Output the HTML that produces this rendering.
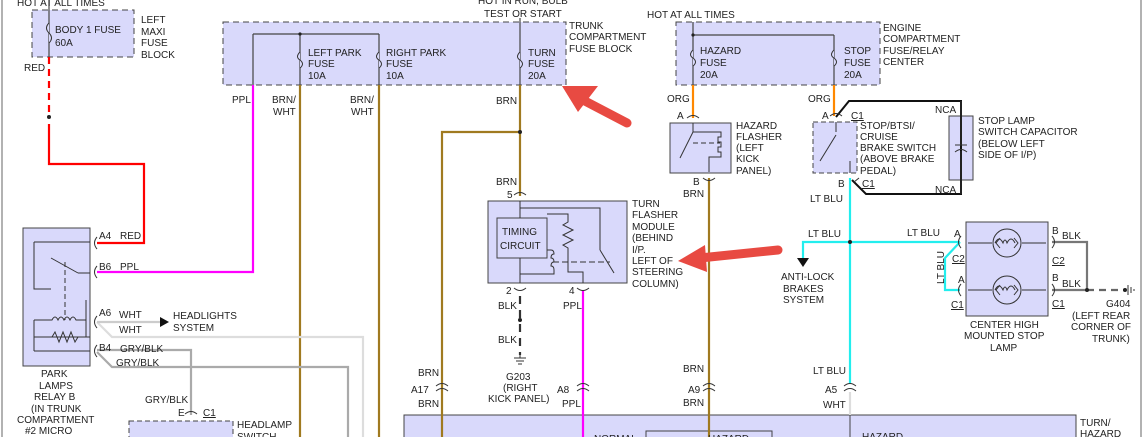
<!DOCTYPE html>
<html><head><meta charset="utf-8"><style>
html,body{margin:0;padding:0;background:#fff;}
svg{display:block;}
text{font-family:"Liberation Sans",sans-serif;font-size:10px;fill:#222;}
</style></head><body>
<svg width="1144" height="437" viewBox="0 0 1144 437" xmlns="http://www.w3.org/2000/svg">
<rect width="1144" height="437" fill="#fff"/>
<line x1="2" y1="0" x2="2" y2="437" stroke="#666" stroke-width="1"/>
<line x1="1141" y1="0" x2="1141" y2="437" stroke="#666" stroke-width="1"/>

<!-- boxes -->
<rect x="32" y="10" width="102" height="47" fill="#d9d9fb" stroke="#444" stroke-dasharray="6,4"/>
<rect x="223" y="22" width="343" height="63" fill="#d9d9fb" stroke="#444" stroke-dasharray="6,4"/>
<rect x="676" y="22" width="204" height="63" fill="#d9d9fb" stroke="#444" stroke-dasharray="6,4"/>
<rect x="23" y="228" width="67" height="138" fill="#d9d9fb" stroke="#444"/>
<rect x="488" y="201" width="139" height="82" fill="#d9d9fb" stroke="#444"/>
<rect x="497" y="218" width="50" height="40" fill="#d9d9fb" stroke="#444"/>
<rect x="670" y="123" width="61" height="50" fill="#d9d9fb" stroke="#444"/>
<rect x="813" y="122" width="44" height="51" fill="#d9d9fb" stroke="#444" stroke-dasharray="5,3"/>
<rect x="949" y="116" width="24" height="64" fill="#d9d9fb" stroke="#444"/>
<rect x="966" y="222" width="82" height="94" fill="#d9d9fb" stroke="#444"/>
<rect x="129" y="421" width="104" height="30" fill="#d9d9fb" stroke="#444" stroke-dasharray="5,3"/>
<rect x="404" y="415" width="672" height="30" fill="#d9d9fb" stroke="#444"/>
<rect x="646" y="431" width="126" height="20" fill="#d9d9fb" stroke="#444"/>
<line x1="850" y1="415" x2="850" y2="437" stroke="#444"/>

<!-- fuse internals -->
<g stroke="#444" fill="none" stroke-width="1.2">
<line x1="49" y1="0" x2="49" y2="57"/>
<line x1="253" y1="34" x2="379" y2="34"/><line x1="253" y1="34" x2="253" y2="85"/>
<line x1="300" y1="34" x2="300" y2="85"/><line x1="379" y1="34" x2="379" y2="85"/>
<line x1="520" y1="18" x2="520" y2="85"/>
<line x1="693" y1="35" x2="834" y2="35"/><line x1="693" y1="22" x2="693" y2="85"/>
<line x1="834" y1="35" x2="834" y2="85"/>
</g>
<g fill="#d9d9fb" stroke="#333" stroke-width="1">
<path d="M49 23 q-5 5 0 10 q5 5 0 10"/>
<path d="M300 52 q-5 5 0 8 q5 4 0 8"/>
<path d="M379 52 q-5 5 0 8 q5 4 0 8"/>
<path d="M520 52 q-5 5 0 8 q5 4 0 8"/>
<path d="M693 50 q-5 5 0 8 q5 4 0 8"/>
<path d="M834 50 q-5 5 0 8 q5 4 0 8"/>
</g>
<g fill="#222"><circle cx="300" cy="34" r="1.6"/><circle cx="693" cy="35" r="1.6"/></g>

<!-- wires -->
<g fill="none" stroke-width="2.2">
<line x1="49" y1="57" x2="49" y2="112" stroke="#f00" stroke-dasharray="7,5"/>
<polyline points="49,124 49,164 144,164 144,243 97,243" stroke="#f00"/>
<polyline points="253,85 253,272 97,272" stroke="#f0f"/>
<line x1="300" y1="85" x2="300" y2="437" stroke="#a07a20"/>
<line x1="379" y1="85" x2="379" y2="437" stroke="#a07a20"/>
<polyline points="520,85 520,196" stroke="#a07a20"/>
<polyline points="520,132 442,132 442,437" stroke="#a07a20"/>
<line x1="583" y1="290" x2="583" y2="437" stroke="#f0f"/>
<line x1="693" y1="85" x2="693" y2="118" stroke="#f80"/>
<line x1="834" y1="85" x2="834" y2="116" stroke="#f80"/>
<line x1="709" y1="178" x2="709" y2="437" stroke="#a07a20"/>
<line x1="850" y1="178" x2="850" y2="384" stroke="#2ee"/>
<polyline points="850,242 803,242 803,258" stroke="#2ee"/>
<polyline points="850,242 960,242" stroke="#2ee"/>
<polyline points="960,242 945,258 945,290 960,290" stroke="#2ee"/>
<line x1="850" y1="392" x2="850" y2="415" stroke="#ddd"/>
<polyline points="97,322 112,337 363,337 363,437" stroke="#ddd"/>
<polyline points="97,350 191,350 191,415" stroke="#aaa"/>
<polyline points="97,352 112,367 348,367 348,437" stroke="#aaa"/>
<line x1="97" y1="322" x2="160" y2="322" stroke="#ccc"/>
<polyline points="1052,242 1087,242 1087,290 1052,290" stroke="#777"/>
<line x1="520" y1="296" x2="520" y2="355" stroke="#333" stroke-dasharray="8,6"/>
<line x1="1087" y1="290" x2="1125" y2="290" stroke="#666" stroke-dasharray="7,5"/>
</g>
<polyline points="836,117 849,101 961,101 961,194 866,194 852,180" fill="none" stroke="#111" stroke-width="2"/>
<g fill="#222"><circle cx="49" cy="117" r="2"/><circle cx="520" cy="132" r="2"/><circle cx="520" cy="320" r="2"/><circle cx="850" cy="242" r="2"/><circle cx="1087" cy="290" r="2"/><circle cx="1125" cy="290" r="2"/></g>
<polygon points="160,317 169,322 160,327" fill="#111"/>
<polygon points="797,258 809,258 803,267" fill="#111"/>
<g stroke="#333" stroke-width="1" fill="none">
<path d="M1128 285 v10 M1131 287 v6 M1134 289 v2"/>
<path d="M514 358 h12 M516 361 h8 M518 364 h4"/>
<line x1="520" y1="355" x2="520" y2="358"/>
</g>

<!-- connector glyphs -->
<g stroke="#333" fill="none" stroke-width="1">
<path d="M97 237 q-5 6 0 12 M97 266 q-5 6 0 12 M97 316 q-5 6 0 12 M97 345 q-5 6 0 12"/>
<path d="M514 195 q6 -5 12 0 M687 118 q6 -5 12 0 M830 116 q6 -5 12 0"/>
<path d="M514 288 q6 5 12 0 M577 288 q6 5 12 0 M703 178 q6 5 12 0"/>
<path d="M436 386 q6 -5 12 0 M436 391 q6 -5 12 0 M577 386 q6 -5 12 0 M577 391 q6 -5 12 0 M703 386 q6 -5 12 0 M703 391 q6 -5 12 0 M844 386 q6 -5 12 0 M844 391 q6 -5 12 0"/>
<path d="M185 414 q6 -5 12 0"/>
<path d="M961 236 q-5 6 0 12 M961 284 q-5 6 0 12 M1052 236 q5 6 0 12 M1052 284 q5 6 0 12"/>
<path d="M854 182 l5 -4"/>
<!-- relay internals -->
<polyline points="34,242 90,242"/><polyline points="34,242 34,289 51,289"/>
<line x1="51" y1="258" x2="78" y2="273"/><line x1="78" y1="273" x2="90" y2="273"/>
<line x1="65" y1="262" x2="65" y2="320" stroke-dasharray="5,3"/>
<polyline points="34,320 34,337 90,337"/><path d="M34 320 h18 q3 -6 6 0 q3 -6 6 0 q3 -6 6 0 q3 -6 6 0 h10 v-20"/>
<path d="M34 337 h18 l3 -5 l4 10 l4 -10 l4 10 l4 -10 l4 10 l3 -5 h8 v-17"/>
<line x1="34" y1="351" x2="90" y2="351"/><line x1="34" y1="337" x2="34" y2="351"/>
<!-- turn flasher internals -->
<line x1="520" y1="201" x2="520" y2="218"/><polyline points="520,208 600,208 600,250"/>
<line x1="600" y1="250" x2="614" y2="273"/>
<polyline points="547,214 568,214 568,222 563,225 573,230 563,235 573,240 563,245 568,248 568,272 583,272 583,283"/>
<line x1="520" y1="258" x2="520" y2="283"/><line x1="520" y1="274" x2="550" y2="274"/>
<path d="M547 250 h4 q3 0 3 4 q-3 0 -3 4 q3 0 3 4 q-3 0 -3 4 q3 0 3 4 v4 h-4"/>
<line x1="553" y1="262" x2="610" y2="262" stroke-dasharray="6,3"/>
<!-- hazard flasher -->
<polyline points="693,123 693,132 709,132"/><line x1="693" y1="132" x2="680" y2="158"/>
<path d="M709 132 h12 v5 h-3 v5 h3 v5 h-3 v5 h3 v5 h-12 v15"/>
<line x1="693" y1="143" x2="720" y2="143" stroke-dasharray="5,3"/>
<!-- stop switch -->
<line x1="836" y1="122" x2="836" y2="132"/><line x1="836" y1="135" x2="820" y2="161"/><line x1="850" y1="161" x2="850" y2="173"/>
<!-- capacitor -->
<line x1="961" y1="101" x2="961" y2="145"/><line x1="961" y1="151" x2="961" y2="194"/>
<line x1="955" y1="145" x2="967" y2="145"/><path d="M955 152 q6 -5 12 0"/>
<!-- lamps -->
<circle cx="1007" cy="243" r="14"/><circle cx="1007" cy="290" r="14"/>
<path d="M968 243 h24 M1022 243 h24 M968 290 h24 M1022 290 h24"/>
<path d="M995 243 q4 -8 8 0 q2 -6 4 0 q4 -8 8 0 M995 290 q4 -8 8 0 q2 -6 4 0 q4 -8 8 0 M1000 238 l-4 5 l4 5 M1014 238 l4 5 l-4 5 M1000 285 l-4 5 l4 5 M1014 285 l4 5 l-4 5"/>
</g>

<!-- text -->
<text x="17" y="6">HOT AT ALL TIMES</text>
<text x="55" y="33">BODY 1 FUSE</text><text x="55" y="46">60A</text>
<text x="141" y="23">LEFT</text><text x="141" y="35">MAXI</text><text x="141" y="46">FUSE</text><text x="141" y="58">BLOCK</text>
<text x="24" y="71">RED</text>
<text x="478" y="4">HOT IN RUN, BULB</text><text x="484" y="17">TEST OR START</text>
<text x="308" y="56">LEFT PARK</text><text x="308" y="67">FUSE</text><text x="308" y="79">10A</text>
<text x="386" y="56">RIGHT PARK</text><text x="386" y="67">FUSE</text><text x="386" y="79">10A</text>
<text x="528" y="56">TURN</text><text x="528" y="67">FUSE</text><text x="528" y="79">20A</text>
<text x="569" y="29">TRUNK</text><text x="569" y="40">COMPARTMENT</text><text x="569" y="52">FUSE BLOCK</text>
<text x="232" y="103">PPL</text><text x="272" y="103">BRN/</text><text x="273" y="115">WHT</text><text x="350" y="103">BRN/</text><text x="351" y="115">WHT</text>
<text x="496" y="104">BRN</text><text x="496" y="185">BRN</text><text x="507" y="198">5</text>
<text x="647" y="18">HOT AT ALL TIMES</text>
<text x="700" y="54">HAZARD</text><text x="700" y="66">FUSE</text><text x="700" y="78">20A</text>
<text x="844" y="54">STOP</text><text x="844" y="66">FUSE</text><text x="844" y="78">20A</text>
<text x="883" y="31">ENGINE</text><text x="883" y="42">COMPARTMENT</text><text x="883" y="54">FUSE/RELAY</text><text x="883" y="65">CENTER</text>
<text x="667" y="102">ORG</text><text x="677" y="119">A</text><text x="808" y="102">ORG</text><text x="822" y="119">A</text>
<text x="851" y="119" text-decoration="underline">C1</text>
<text x="736" y="129">HAZARD</text><text x="736" y="140">FLASHER</text><text x="736" y="151">(LEFT</text><text x="736" y="162">KICK</text><text x="736" y="174">PANEL)</text>
<text x="693" y="185">B</text><text x="683" y="197">BRN</text>
<text x="860" y="129">STOP/BTSI/</text><text x="860" y="140">CRUISE</text><text x="860" y="151">BRAKE SWITCH</text><text x="860" y="162">(ABOVE BRAKE</text><text x="860" y="174">PEDAL)</text>
<text x="838" y="187">B</text><text x="862" y="187" text-decoration="underline">C1</text><text x="810" y="202">LT BLU</text>
<text x="935" y="113">NCA</text><text x="935" y="193">NCA</text>
<text x="978" y="124">STOP LAMP</text><text x="978" y="135">SWITCH CAPACITOR</text><text x="978" y="147">(BELOW LEFT</text><text x="978" y="158">SIDE OF I/P)</text>
<text x="632" y="207">TURN</text><text x="632" y="218">FLASHER</text><text x="632" y="230">MODULE</text><text x="632" y="241">(BEHIND</text><text x="632" y="253">I/P.</text><text x="632" y="264">LEFT OF</text><text x="632" y="275">STEERING</text><text x="632" y="287">COLUMN)</text>
<text x="502" y="235">TIMING</text><text x="500" y="249">CIRCUIT</text>
<text x="506" y="294">2</text><text x="569" y="294">4</text><text x="498" y="309">BLK</text><text x="563" y="309">PPL</text><text x="498" y="343">BLK</text>
<text x="506" y="380">G203</text><text x="503" y="391">(RIGHT</text><text x="488" y="402">KICK PANEL)</text>
<text x="418" y="376">BRN</text><text x="411" y="393">A17</text><text x="418" y="407">BRN</text>
<text x="557" y="393">A8</text><text x="562" y="407">PPL</text>
<text x="683" y="372">BRN</text><text x="688" y="393">A9</text><text x="683" y="406">BRN</text>
<text x="813" y="374">LT BLU</text><text x="825" y="393">A5</text><text x="823" y="408">WHT</text>
<text x="808" y="237">LT BLU</text><text x="907" y="236">LT BLU</text>
<text x="781" y="280">ANTI-LOCK</text><text x="783" y="292">BRAKES</text><text x="783" y="303">SYSTEM</text>
<text transform="translate(944,284) rotate(-90)">LT BLU</text>
<text x="954" y="237">A</text><text x="952" y="262" text-decoration="underline">C2</text><text x="958" y="283">A</text><text x="951" y="308" text-decoration="underline">C1</text>
<text x="1052" y="234">B</text><text x="1062" y="239">BLK</text><text x="1052" y="264" text-decoration="underline">C2</text>
<text x="1052" y="281">B</text><text x="1062" y="287">BLK</text><text x="1052" y="307" text-decoration="underline">C1</text>
<text x="970" y="328">CENTER HIGH</text><text x="964" y="339">MOUNTED STOP</text><text x="990" y="351">LAMP</text>
<text x="1106" y="307">G404</text><text x="1072" y="319">(LEFT REAR</text><text x="1071" y="330">CORNER OF</text><text x="1092" y="342">TRUNK)</text>
<text x="99" y="239">A4</text><text x="120" y="239">RED</text><text x="99" y="270">B6</text><text x="120" y="270">PPL</text>
<text x="99" y="316">A6</text><text x="119" y="318">WHT</text><text x="173" y="319">HEADLIGHTS</text><text x="173" y="331">SYSTEM</text><text x="119" y="333">WHT</text>
<text x="99" y="351">B4</text><text x="120" y="352">GRY/BLK</text><text x="116" y="366">GRY/BLK</text>
<text x="41" y="377">PARK</text><text x="39" y="389">LAMPS</text><text x="34" y="400">RELAY B</text><text x="31" y="412">(IN TRUNK</text><text x="17" y="423">COMPARTMENT</text><text x="25" y="434">#2 MICRO</text>
<text x="145" y="403">GRY/BLK</text><text x="178" y="416">E</text><text x="203" y="416" text-decoration="underline">C1</text>
<text x="237" y="428">HEADLAMP</text><text x="237" y="440">SWITCH</text>
<text x="594" y="442">NORMAL</text><text x="708" y="442">HAZARD</text><text x="862" y="440">HAZARD</text>
<text x="1080" y="426">TURN/</text><text x="1080" y="437">HAZARD</text>

<!-- red arrows -->
<g fill="#e84a42" stroke="#e84a42" stroke-linecap="round">
<line x1="627" y1="123" x2="583" y2="100" stroke-width="9"/>
<polygon points="562,86 598,86 578,112" stroke="none"/>
<line x1="778" y1="250" x2="700" y2="258" stroke-width="9"/>
<polygon points="678,261 705,245 707,272" stroke="none"/>
</g>
</svg>
</body></html>
